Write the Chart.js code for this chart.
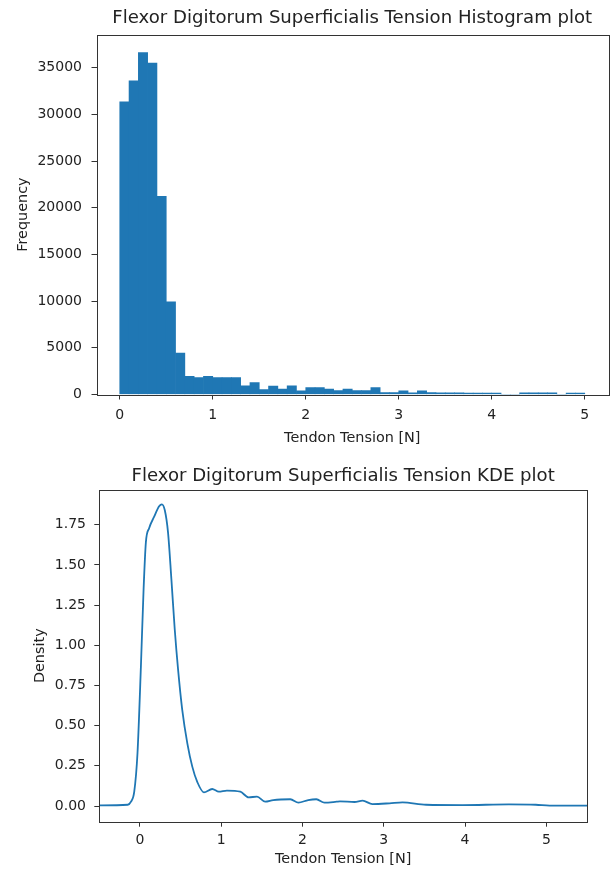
<!DOCTYPE html>
<html lang="en">
<head>
<meta charset="utf-8" />
<script src="https://cdn.jsdelivr.net/npm/chart.js@4.4.1/dist/chart.umd.min.js"></script>
<style>
  html, body { margin: 0; padding: 0; background: #fff; }
  canvas { display: block; }
</style>
<script>
  // histogram: bin centres (bin width 0.1 from 0 to 5) and counts
  var histCenters = [0.05,0.15,0.25,0.35,0.45,0.55,0.65,0.75,0.85,0.95,
                     1.05,1.15,1.25,1.35,1.45,1.55,1.65,1.75,1.85,1.95,
                     2.05,2.15,2.25,2.35,2.45,2.55,2.65,2.75,2.85,2.95,
                     3.05,3.15,3.25,3.35,3.45,3.55,3.65,3.75,3.85,3.95,
                     4.05,4.15,4.25,4.35,4.45,4.55,4.65,4.75,4.85,4.95];
  var histCounts = [31350,33600,36630,35520,21240,9925,4430,1960,1820,1960,
                    1820,1820,1820,930,1285,535,890,570,930,390,
                    750,750,570,430,570,430,430,750,215,215,
                    390,180,390,200,190,180,170,160,160,150,
                    150,0,0,170,170,170,170,0,160,160];
  var histXTicks = [0,1,2,3,4,5];
  var histYTicks = [0,5000,10000,15000,20000,25000,30000,35000];

  // KDE curve
  var kdeX = [-0.5,-0.15,-0.11,-0.07,-0.03,0.012,0.045,0.073,0.114,0.175,0.236,0.27,0.306,0.346,0.387,0.428,0.469,0.52,0.583,0.644,0.705,0.787,0.889,0.97,1.07,1.235,1.337,1.44,1.54,1.64,1.85,1.95,2.07,2.17,2.27,2.42,2.46,2.64,2.74,2.86,3.07,3.23,3.52,3.97,4.54,4.87,5.04,5.5];
  var kdeY = [0.004,0.008,0.027,0.09,0.33,0.87,1.35,1.64,1.73,1.80,1.865,1.877,1.84,1.70,1.41,1.10,0.85,0.60,0.39,0.245,0.15,0.085,0.106,0.089,0.096,0.089,0.054,0.058,0.027,0.037,0.042,0.021,0.037,0.042,0.021,0.027,0.029,0.025,0.033,0.012,0.017,0.023,0.008,0.006,0.01,0.008,0.003,0.002];
  var kdeXTicks = [0,1,2,3,4,5];
  var kdeYTicks = [0,0.25,0.5,0.75,1,1.25,1.5,1.75];
</script>
</head>
<body>
  <canvas id="histChart" width="612" height="452"></canvas>
  <canvas id="kdeChart" width="612" height="422"></canvas>

  <script>
    var txt = '#222';
    var blue = '#1f77b4';
    Chart.defaults.font.family = '"DejaVu Sans", sans-serif';
    Chart.defaults.color = txt;

    // box round the plot area, like matplotlib spines
    var frame = {
      id: 'frame',
      afterDraw: function (chart) {
        var a = chart.chartArea, c = chart.ctx;
        c.save();
        c.strokeStyle = '#333';
        c.lineWidth = 1;
        c.strokeRect(Math.round(a.left) + 0.5, Math.round(a.top) + 0.5,
                     Math.round(a.right - a.left), Math.round(a.bottom - a.top));
        c.restore();
      }
    };

    function fixTicks(list) {
      return function (scale) { scale.ticks = list.map(function (v) { return { value: v }; }); };
    }

    function axis(o) {
      return {
        type: 'linear',
        min: o.min, max: o.max,
        offset: false,
        afterBuildTicks: fixTicks(o.ticks),
        afterFit: o.fit,
        border: { display: false },
        grid: { display: true, drawOnChartArea: false, drawTicks: true, tickLength: 5, color: '#333', offset: false },
        ticks: { font: { size: 14 }, padding: o.pad, color: txt, maxRotation: 0, autoSkip: false, callback: o.fmt },
        title: { display: true, text: o.title, font: { size: 14.4 }, color: txt, padding: o.titlePad }
      };
    }

    function title(text, pad) {
      return {
        display: true,
        fullSize: false,
        text: text,
        font: { size: 18.1, weight: 'normal' },
        color: txt,
        padding: pad
      };
    }

    new Chart(document.getElementById('histChart'), {
      type: 'bar',
      data: {
        datasets: [{
          data: histCenters.map(function (x, i) { return { x: x, y: histCounts[i] }; }),
          backgroundColor: blue,
          borderWidth: 0,
          barPercentage: 1,
          categoryPercentage: 1
        }]
      },
      options: {
        responsive: false,
        animation: false,
        layout: { padding: { left: 0, right: 4, top: 0, bottom: 0 } },
        plugins: {
          legend: { display: false },
          tooltip: { enabled: false },
          title: title('Flexor Digitorum Superficialis Tension Histogram plot', { top: 7.5, bottom: 5.5 })
        },
        scales: {
          x: axis({ min: -0.25, max: 5.25, ticks: histXTicks, pad: 7.5,
                    fit: function (s) { s.height = 57.5; },
                    fmt: function (v) { return String(v); },
                    title: 'Tendon Tension [N]', titlePad: { top: 4, bottom: 5.4 } }),
          y: axis({ min: 0, max: 38550, ticks: histYTicks, pad: 9.5,
                    fit: function (s) { s.width = 96.5; },
                    fmt: function (v) { return String(v); },
                    title: 'Frequency', titlePad: { top: 14.2, bottom: 4 } })
        }
      },
      plugins: [frame]
    });

    new Chart(document.getElementById('kdeChart'), {
      type: 'line',
      data: {
        datasets: [{
          data: kdeX.map(function (x, i) { return { x: x, y: kdeY[i] }; }),
          borderColor: blue,
          borderWidth: 1.8,
          pointRadius: 0,
          fill: false,
          cubicInterpolationMode: 'monotone'
        }]
      },
      options: {
        responsive: false,
        animation: false,
        layout: { padding: { left: 0, right: 25, top: 0, bottom: 0 } },
        plugins: {
          legend: { display: false },
          tooltip: { enabled: false },
          title: title('Flexor Digitorum Superficialis Tension KDE plot', { top: 13, bottom: 3 })
        },
        scales: {
          x: axis({ min: -0.5, max: 5.5, ticks: kdeXTicks, pad: 5.5,
                    fit: function (s) { s.height = 52.3; },
                    fmt: function (v) { return String(v); },
                    title: 'Tendon Tension [N]', titlePad: { top: 4, bottom: 6 } }),
          y: axis({ min: -0.0976, max: 1.968, ticks: kdeYTicks, pad: 8.3,
                    fit: function (s) { s.width = 99.3; },
                    fmt: function (v) { return v.toFixed(2); },
                    title: 'Density', titlePad: { top: 31.9, bottom: 4 } })
        }
      },
      plugins: [frame]
    });
  </script>
</body>
</html>
